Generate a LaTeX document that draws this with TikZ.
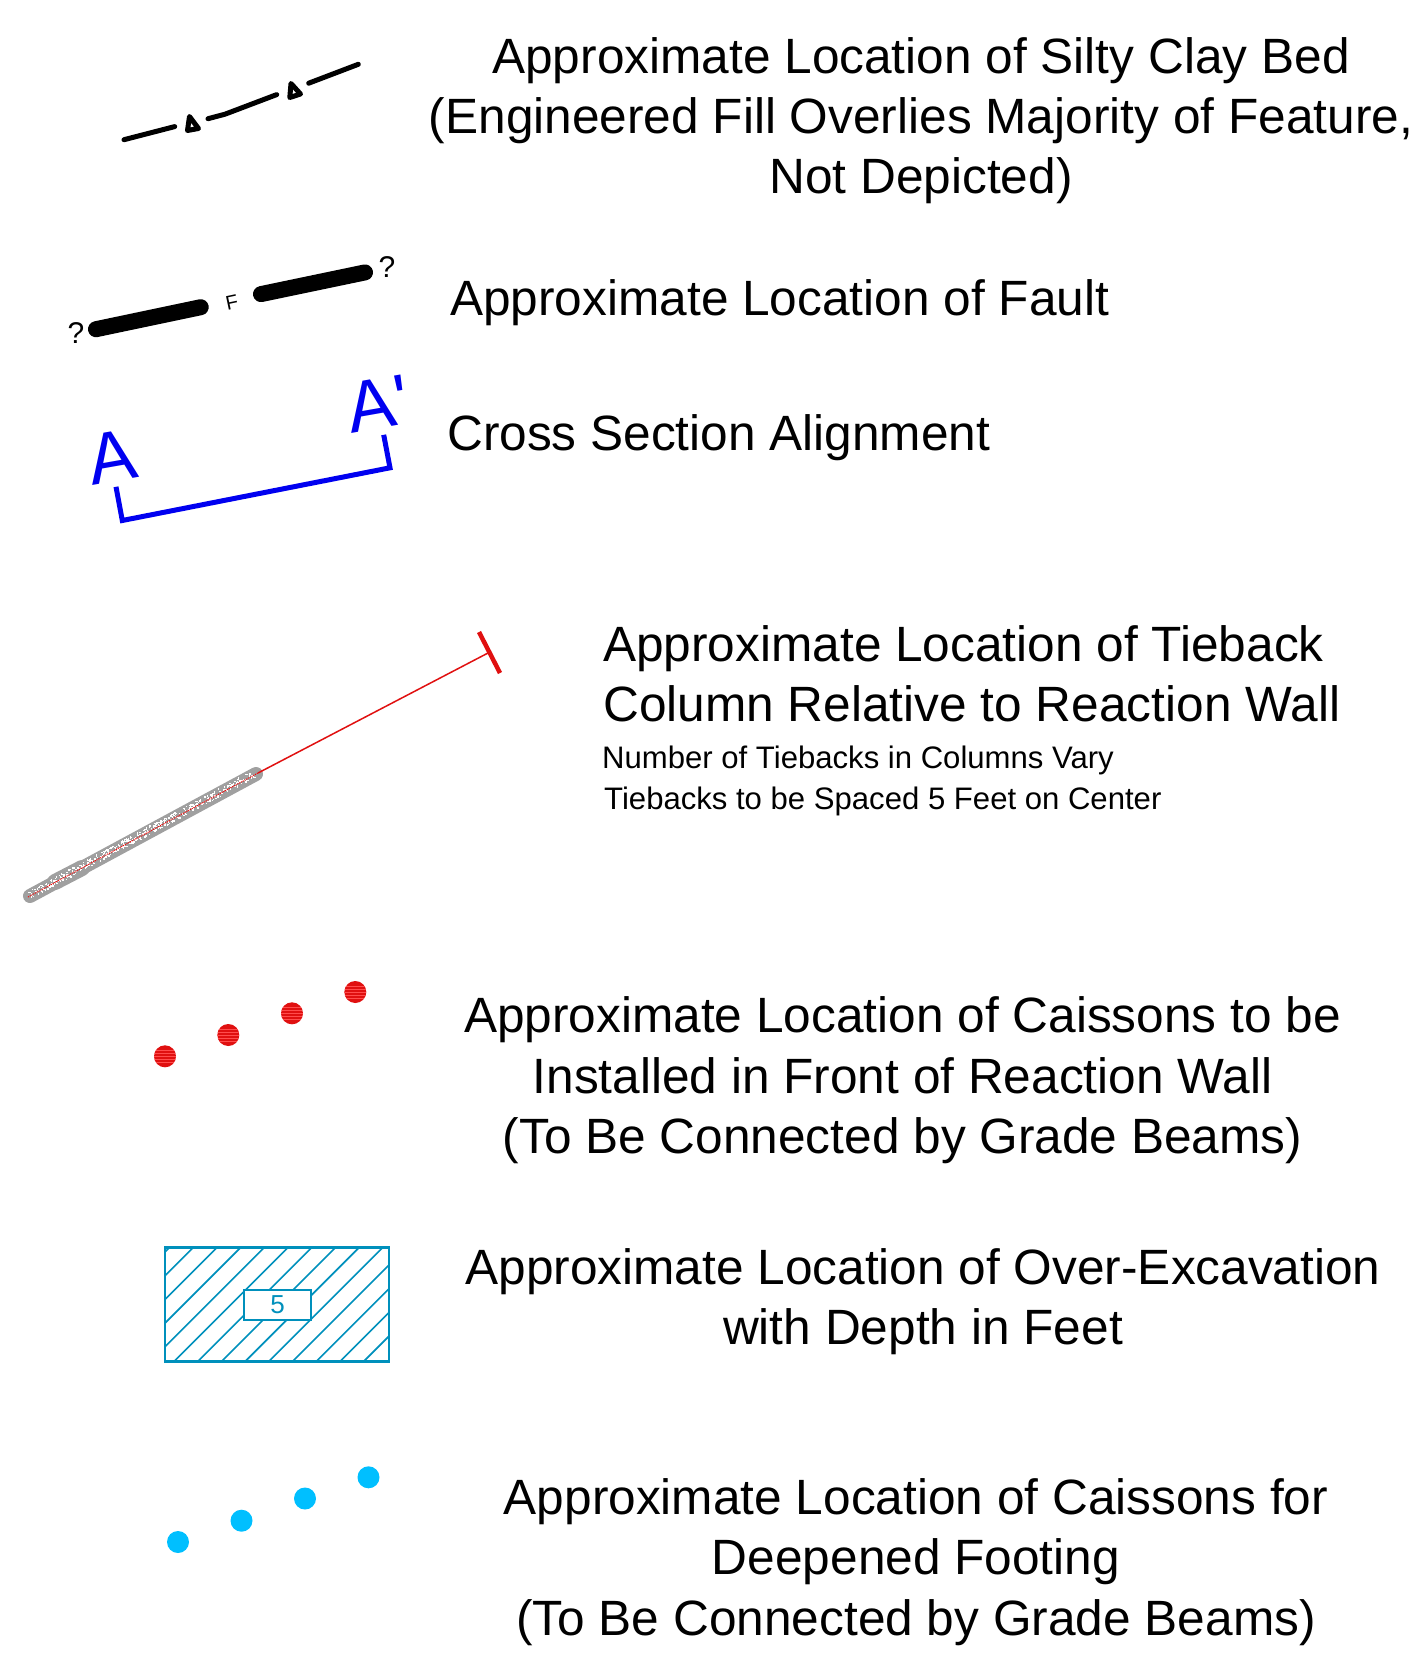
\documentclass[tikz,border=0pt]{standalone}
\usepackage{fontspec}
\setmainfont{Liberation Sans}
\newfontfamily\plainfont{Liberation Sans}
\definecolor{hatchblue}{HTML}{0090BC}
\definecolor{secblue}{HTML}{0000F0}
\definecolor{caissonred}{HTML}{E01010}
\definecolor{caissoncyan}{HTML}{00BFFF}
\definecolor{groutgray}{HTML}{A0A0A0}
\begin{document}
\begin{tikzpicture}[x=1pt,y=-1pt]
\tikzstyle{legendtext}=[inner sep=0pt,font=\fontsize{49.6}{60.4}\selectfont,align=center]
\tikzstyle{smalltext}=[inner sep=0pt,anchor=west,font=\fontsize{31.1}{36}\selectfont]
\tikzstyle{bedline}=[draw,black,line width=5,line cap=round,line join=round]
\tikzstyle{faultline}=[draw,black,line width=16,line cap=round]
\tikzstyle{section}=[draw,secblue,line width=5,line join=miter]
\tikzstyle{tieback}=[draw,caissonred,line width=1.5]
\tikzstyle{hatchline}=[draw,hatchblue,line width=1.6]
\tikzstyle{grout}=[draw,groutgray,line cap=round]
\tikzstyle{redpile}=[circle,inner sep=0pt,minimum size=22,fill=caissonred,path picture={
\foreach \k in {-6,-3,0,3,6}
\draw[red!70!white,line width=.6]([yshift=\k]path picture bounding box.west)--([yshift=\k]path picture bounding box.east);}]
\tikzstyle{cyanpile}=[circle,inner sep=0pt,minimum size=22,fill=caissoncyan]
\useasboundingbox(0,0)rectangle(1419,1660);
% silty clay bed
\path[bedline](124,139.7)--(174.7,126.6);
\path[bedline](208,118.7)--(225,114.2)--(276.7,94.6);
\path[bedline](308.7,83.2)--(358.3,64.3);
\path[bedline](187.5,130.5)--(189.5,116.5)--(198.5,128.5)--cycle;
\path[bedline](289.8,97.5)--(291,83.5)--(300.5,94)--cycle;
\node[legendtext](bedtext)at(921,120.7){Approximate Location of Silty Clay Bed\\(Engineered Fill Overlies Majority of Feature,\\Not Depicted)};
% fault
\path[faultline](96,329.2)--(200.7,307.2);
\path[faultline](261,294.1)--(365,272.4);
\node[rotate=12,font=\fontsize{20}{20}\selectfont](faultmark)at(232,302.5){F};
\node[font=\fontsize{30}{30}\selectfont](queryleft)at(76,333){?};
\node[font=\fontsize{30}{30}\selectfont](queryright)at(387,267){?};
\node[legendtext,anchor=west](faulttext)at(450,302.2){Approximate Location of Fault};
% cross section
\path[section](116,486.8)--(122.3,520.5)--(390,467.8)--(383.7,434.8);
\begin{scope}
\clip(0,340)rectangle(402,520);
\node[secblue,rotate=10,inner sep=0pt,font=\plainfont\fontsize{72}{72}\selectfont](secleft)at(112,457){A};
\node[secblue,rotate=10,inner sep=0pt,font=\plainfont\fontsize{72}{72}\selectfont](secright)at(378,404){A'};
\end{scope}
\node[legendtext,anchor=west](sectext)at(447,438){Cross Section Alignment};
% tieback
\path[grout,line width=14](30,896)--(256,774);
\path[grout,line width=16](55,882)--(82,868);
\pgfmathsetseed{7}
\foreach \i in {1,...,480}{
\pgfmathsetmacro{\tpos}{rnd}
\pgfmathsetmacro{\off}{(rnd-.5)*7.5}
\fill[white]({30+224*\tpos+.47*\off-.7},{895-121*\tpos+.88*\off-.7})rectangle++(1.4,1.4);}
\path[draw,red,line width=1,densely dotted](28,897)--(258,773);
\path[tieback](258,773)--(488,653);
\path[draw,caissonred,line width=4.5](479,632)--(500,673);
\node[legendtext,anchor=west,align=left](tiebacktext)at(603,674){Approximate Location of Tieback\\Column Relative to Reaction Wall};
\node[smalltext](tiebacknum)at(602,760){Number of Tiebacks in Columns Vary};
\node[smalltext](tiebackgap)at(604,801.5){Tiebacks to be Spaced 5 Feet on Center};
% caissons in front of wall
\node[redpile](red1)at(165,1056.3){};
\node[redpile](red2)at(228.3,1035){};
\node[redpile](red3)at(292,1013.3){};
\node[redpile](red4)at(355.3,992){};
\node[legendtext](redtext)at(902.5,1080.2){Approximate Location of Caissons to be\\Installed in Front of Reaction Wall\\(To Be Connected by Grade Beams)};
% over-excavation
\begin{scope}
\clip(165,1247.3)rectangle(389,1361.3);
\foreach \n in {0,...,13}
\path[hatchline]({1417+23.7*\n-1247.3+20},1227.3)--({1417+23.7*\n-1361.3-20},1381.3);
\end{scope}
\path[draw,hatchblue,line width=2.8](165,1247.3)rectangle(389,1361.3);
\node[draw=hatchblue,fill=white,line width=2,minimum width=67,minimum height=30,inner sep=0pt,text=hatchblue,font=\fontsize{26}{26}\selectfont](depthbox)at(277.5,1305){5};
\node[legendtext](exctext)at(923,1301.5){Approximate Location of Over-Excavation\\with Depth in Feet};
% deepened footing
\node[cyanpile](cyan1)at(178,1542){};
\node[cyanpile](cyan2)at(241.5,1520.7){};
\node[cyanpile](cyan3)at(305,1498.5){};
\node[cyanpile](cyan4)at(368.5,1477.3){};
\node[legendtext](cyantext)at(916,1562){Approximate Location of Caissons for\\Deepened Footing\\(To Be Connected by Grade Beams)};
\end{tikzpicture}
\end{document}
